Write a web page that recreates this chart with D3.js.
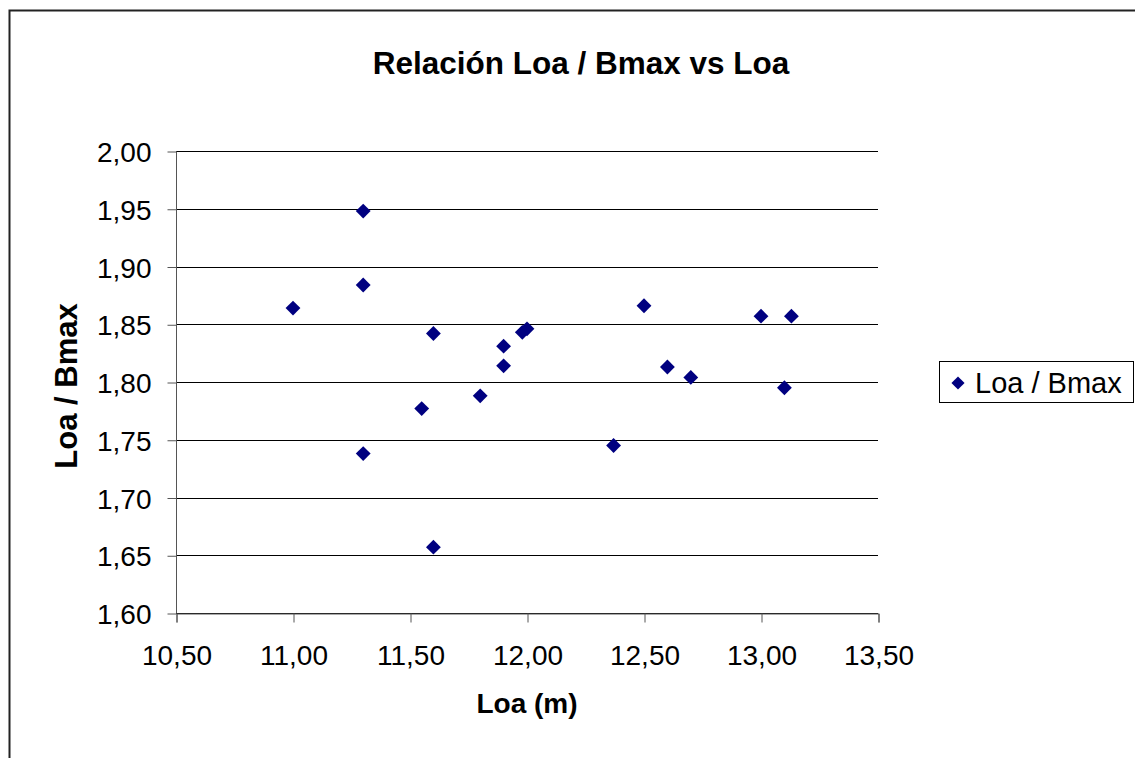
<!DOCTYPE html>
<html>
<head>
<meta charset="utf-8">
<script src="https://cdnjs.cloudflare.com/ajax/libs/d3/7.8.5/d3.min.js"></script>
<style>
  html, body { margin: 0; padding: 0; background: #fff; }
  svg { display: block; font-family: "Liberation Sans", Arial, sans-serif; }
</style>
</head>
<body>
<svg id="chart" width="1135" height="758"></svg>
<script>
// Loa (m) of each boat
const loa = [11.00, 11.30, 11.30, 11.30, 11.55, 11.60, 11.60, 11.80, 11.90, 11.90,
             11.98, 12.00, 12.37, 12.50, 12.60, 12.70, 13.00, 13.10, 13.13];
// Loa / Bmax ratio of each boat
const ratio = [1.864, 1.948, 1.884, 1.738, 1.777, 1.842, 1.657, 1.788, 1.831, 1.814,
               1.843, 1.846, 1.745, 1.866, 1.813, 1.804, 1.857, 1.795, 1.857];
const xTicks = [10.5, 11.0, 11.5, 12.0, 12.5, 13.0, 13.5];
const yTicks = [1.60, 1.65, 1.70, 1.75, 1.80, 1.85, 1.90, 1.95, 2.00];
const seriesName = "Loa / Bmax";
const titleText = "Relación Loa / Bmax vs Loa";
const xTitle = "Loa (m)";
const yTitle = "Loa / Bmax";

const svg = d3.select("#chart");
const plot = { left: 176, top: 151, right: 878, bottom: 613 };
const navy = "#000080";
const fmt = v => v.toFixed(2).replace(".", ",");

// outer chart frame
svg.append("rect")
  .attr("x", 9.5).attr("y", 10.5).attr("width", 1200).attr("height", 1000)
  .attr("fill", "#fff").attr("stroke", "#222").attr("stroke-width", 2);

const x = d3.scaleLinear().domain([10.5, 13.5]).range([plot.left, plot.right]);
const y = d3.scaleLinear().domain([1.60, 2.00]).range([plot.bottom, plot.top]);

// horizontal gridlines
svg.append("g")
  .selectAll("line").data(yTicks).join("line")
  .attr("x1", plot.left).attr("x2", plot.right)
  .attr("y1", d => Math.round(y(d)) + 0.5).attr("y2", d => Math.round(y(d)) + 0.5)
  .attr("stroke", "#000").attr("stroke-width", 1);

// y axis
const yAxis = svg.append("g")
  .attr("transform", `translate(${plot.left + 0.5},0.5)`)
  .call(d3.axisLeft(y).tickValues(yTicks).tickFormat(fmt).tickSize(9).tickPadding(16));
// x axis
const xAxis = svg.append("g")
  .attr("transform", `translate(0.5,${plot.bottom + 0.5})`)
  .call(d3.axisBottom(x).tickValues(xTicks).tickFormat(fmt).tickSize(9).tickPadding(23));

[yAxis, xAxis].forEach(g => {
  g.select(".domain").attr("stroke", "#555");
  g.selectAll(".tick line").attr("stroke", "#555");
  g.selectAll(".tick text").attr("fill", "#000")
    .style("font-size", "28px").style("font-family", "'Liberation Sans', Arial, sans-serif");
});
yAxis.selectAll(".tick text").attr("dy", "0.36em");
yAxis.select(".domain").attr("d", `M0,${plot.top}V${plot.bottom}`);

// data points
const diamond = d3.symbol().type(d3.symbolDiamond2).size(140);
svg.append("g")
  .selectAll("path").data(loa.map((v, i) => [v, ratio[i]])).join("path")
  .attr("transform", d => `translate(${x(d[0])},${y(d[1])})`)
  .attr("d", diamond)
  .attr("fill", navy);

// title
svg.append("text")
  .attr("x", 581).attr("y", 74)
  .attr("text-anchor", "middle")
  .style("font-size", "31.5px").style("font-weight", "bold")
  .text(titleText);

// axis titles
svg.append("text")
  .attr("x", 527).attr("y", 713)
  .attr("text-anchor", "middle")
  .style("font-size", "28px").style("font-weight", "bold")
  .text(xTitle);
svg.append("text")
  .attr("transform", "translate(77,386) rotate(-90)")
  .attr("text-anchor", "middle")
  .style("font-size", "31px").style("font-weight", "bold")
  .text(yTitle);

// legend
const lg = svg.append("g");
lg.append("rect")
  .attr("x", 939.5).attr("y", 361.5).attr("width", 194).attr("height", 41)
  .attr("fill", "#fff").attr("stroke", "#000").attr("stroke-width", 1);
lg.append("path")
  .attr("transform", "translate(958,383)")
  .attr("d", d3.symbol().type(d3.symbolDiamond2).size(110))
  .attr("fill", navy);
lg.append("text")
  .attr("x", 975).attr("y", 393)
  .style("font-size", "29px")
  .text(seriesName);
</script>
</body>
</html>
